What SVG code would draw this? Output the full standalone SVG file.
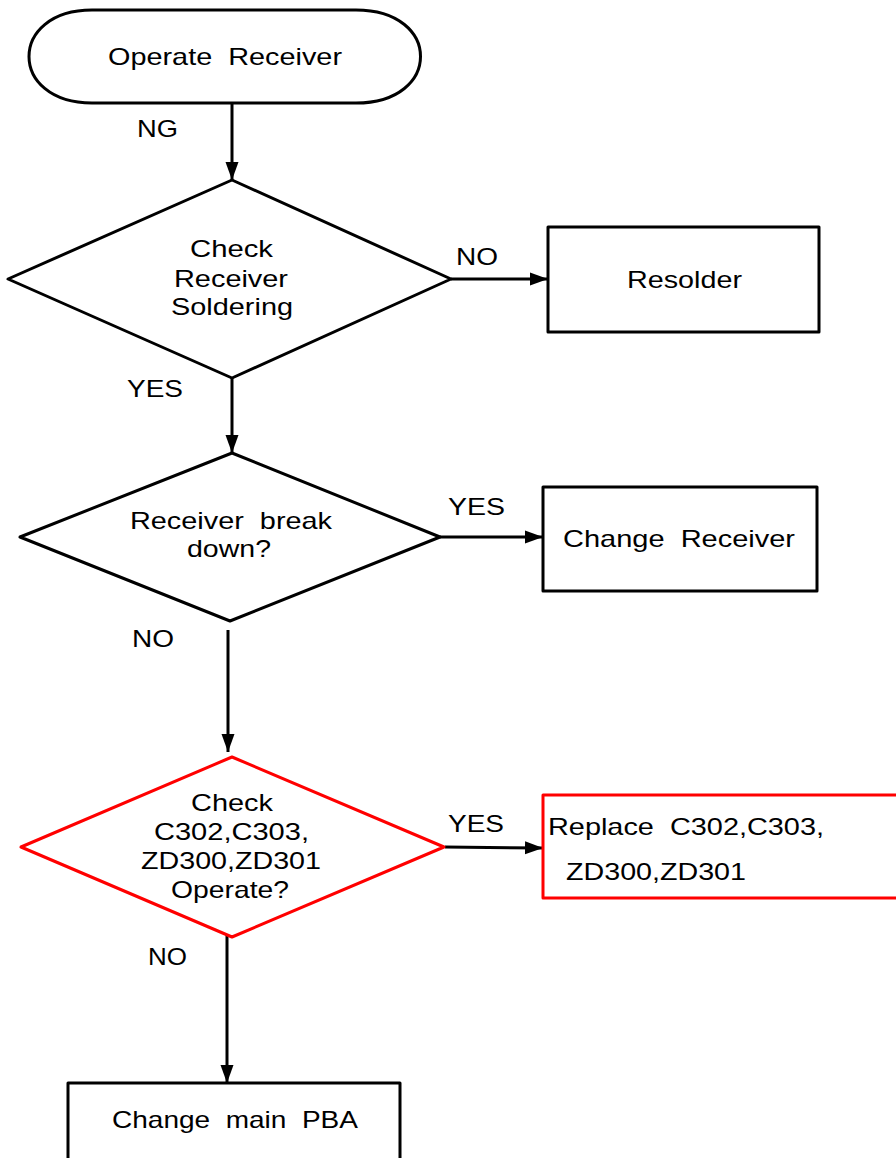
<svg xmlns="http://www.w3.org/2000/svg" width="896" height="1158" viewBox="0 0 896 1158">
<style>
text{font-family:"Liberation Sans",Arial,sans-serif;font-size:24px;fill:#000;white-space:pre}
.blk{fill:#fff;stroke:#000;stroke-width:3;stroke-linejoin:round}
.red{fill:#fff;stroke:#f00;stroke-width:3;stroke-linejoin:round}
.ln{stroke:#000;stroke-width:3;fill:none}
</style>
<defs>
<marker id="ah" markerUnits="userSpaceOnUse" markerWidth="19" markerHeight="14" refX="18" refY="7" orient="auto">
<path d="M0,0.5 L18,7 L0,13.5 Z" fill="#000"/>
</marker>
</defs>
<rect width="896" height="1158" fill="#fff"/>
<g id="connectors">
<line class="ln" x1="232" y1="104" x2="232" y2="180" marker-end="url(#ah)"/>
<line class="ln" x1="451" y1="279" x2="548" y2="279" marker-end="url(#ah)"/>
<line class="ln" x1="232" y1="378" x2="232" y2="453" marker-end="url(#ah)"/>
<line class="ln" x1="440" y1="537" x2="543" y2="537" marker-end="url(#ah)"/>
<line class="ln" x1="228" y1="630" x2="228" y2="752" marker-end="url(#ah)"/>
<line class="ln" x1="445" y1="847" x2="543" y2="848" stroke-width="2.5" marker-end="url(#ah)"/>
<line class="ln" x1="227" y1="932" x2="227" y2="1083" marker-end="url(#ah)"/>
<text x="137" y="137" textLength="41" lengthAdjust="spacingAndGlyphs">NG</text>
<text x="456" y="265" textLength="42" lengthAdjust="spacingAndGlyphs">NO</text>
<text x="127" y="397" textLength="56" lengthAdjust="spacingAndGlyphs">YES</text>
<text x="448" y="515" textLength="57" lengthAdjust="spacingAndGlyphs">YES</text>
<text x="132" y="647" textLength="42" lengthAdjust="spacingAndGlyphs">NO</text>
<text x="448" y="832" textLength="56" lengthAdjust="spacingAndGlyphs">YES</text>
<text x="148" y="965" font-size="23" textLength="39" lengthAdjust="spacingAndGlyphs">NO</text>
</g>
<g id="start">
<path class="blk" d="M92,10 L356,10 C442,10 442,103 356,103 L92,103 C8,103 8,10 92,10 Z"/>
<text x="108" y="65" textLength="234" lengthAdjust="spacingAndGlyphs">Operate  Receiver</text>
</g>
<g id="check-soldering">
<polygon class="blk" points="232,180 451,279 232,378 8,279"/>
<text x="190" y="257" textLength="83" lengthAdjust="spacingAndGlyphs">Check</text>
<text x="174" y="287" textLength="114" lengthAdjust="spacingAndGlyphs">Receiver</text>
<text x="171" y="315" textLength="122" lengthAdjust="spacingAndGlyphs">Soldering</text>
</g>
<g id="resolder">
<rect class="blk" x="548" y="227" width="271" height="105"/>
<text x="627" y="288" textLength="115" lengthAdjust="spacingAndGlyphs">Resolder</text>
</g>
<g id="break-down">
<polygon class="blk" points="232,453 440,537 230,621 20,537"/>
<text x="130" y="529" textLength="202" lengthAdjust="spacingAndGlyphs">Receiver  break</text>
<text x="187" y="557" textLength="84" lengthAdjust="spacingAndGlyphs">down?</text>
</g>
<g id="change-receiver">
<rect class="blk" x="543" y="487" width="274" height="104"/>
<text x="563" y="547" textLength="232" lengthAdjust="spacingAndGlyphs">Change  Receiver</text>
</g>
<g id="check-components">
<polygon class="red" points="232,757 444,847 232,937 21,847"/>
<text x="191" y="811" textLength="82" lengthAdjust="spacingAndGlyphs">Check</text>
<text x="154" y="840" textLength="155" lengthAdjust="spacingAndGlyphs">C302,C303,</text>
<text x="141" y="869" textLength="180" lengthAdjust="spacingAndGlyphs">ZD300,ZD301</text>
<text x="171" y="898" textLength="118" lengthAdjust="spacingAndGlyphs">Operate?</text>
</g>
<g id="replace">
<rect class="red" x="543" y="795" width="360" height="103"/>
<text x="548" y="835" textLength="276" lengthAdjust="spacingAndGlyphs">Replace  C302,C303,</text>
<text x="566" y="880" textLength="180" lengthAdjust="spacingAndGlyphs">ZD300,ZD301</text>
</g>
<g id="change-pba">
<rect class="blk" x="68" y="1083" width="332" height="100"/>
<text x="112" y="1128" textLength="246" lengthAdjust="spacingAndGlyphs">Change  main  PBA</text>
</g>
</svg>
